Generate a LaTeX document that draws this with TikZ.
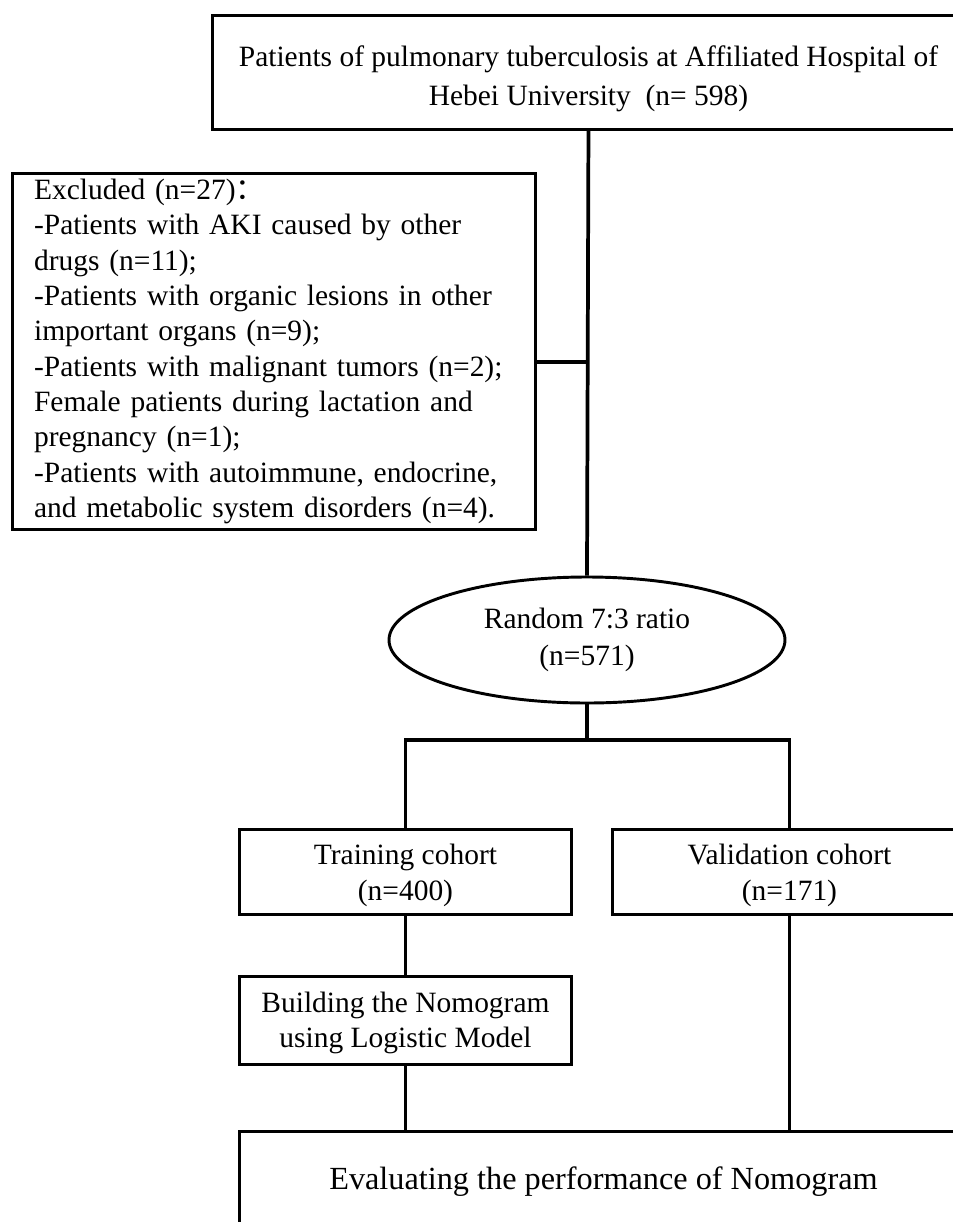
\documentclass[tikz,border=0pt]{standalone}
\usepackage{fontspec}
\setmainfont{Liberation Serif}
\newfontfamily\cjk{Noto Sans CJK SC}
\usetikzlibrary{shapes.geometric}
\newcommand{\lowered}[2]{\raisebox{-#1}[\height][\depth]{#2}}
\begin{document}
\begin{tikzpicture}[x=0.75pt,y=-0.75pt,
  box/.style={draw,line width=2.2pt,rectangle,anchor=north west,inner sep=0pt,
    font=\fontsize{22.1pt}{27pt}\selectfont,align=center},
  conn/.style={line width=2.8pt}]
\useasboundingbox (0,0) rectangle (953,1222);
\clip (0,0) rectangle (953,1222);
\fill[white] (0,0) rectangle (953,1222);
% nodes
\node[box,minimum width=564pt,minimum height=85.5pt,
  font=\fontsize{22.1pt}{29.2pt}\selectfont] (top) at (211,14)
  {\lowered{4.5pt}{\begin{tabular}{@{}c@{}}Patients of pulmonary tuberculosis at Affiliated Hospital of\\Hebei University\ \ (n= 598)\end{tabular}}};
\node[box,minimum width=392.25pt,minimum height=267pt,align=left,
  text width=360pt,inner xsep=16.2pt,
  font=\fontsize{22.1pt}{26.5pt}\selectfont] (excl) at (11,172)
  {Excluded (n=27){\cjk ：}\\
  -Patients with AKI caused by other\\
  drugs (n=11);\\
  -Patients with organic lesions in other\\
  important organs (n=9);\\
  -Patients with malignant tumors (n=2);\\
  Female patients during lactation and\\
  pregnancy (n=1);\\
  -Patients with autoimmune, endocrine,\\
  and metabolic system disorders (n=4).};
\node[draw,line width=2.2pt,ellipse,minimum width=297pt,minimum height=94.5pt,inner sep=0pt,
  font=\fontsize{22.1pt}{27.5pt}\selectfont,align=center] (ell) at (587,640)
  {Random 7:3 ratio\\(n=571)};
\node[box,minimum width=249pt,minimum height=63.75pt] (train) at (238,828)
  {\lowered{2.5pt}{\begin{tabular}{@{}c@{}}Training cohort\\(n=400)\end{tabular}}};
\node[box,minimum width=265.5pt,minimum height=63.75pt] (valid) at (611,828)
  {\lowered{2.5pt}{\begin{tabular}{@{}c@{}}Validation cohort\\(n=171)\end{tabular}}};
\node[box,minimum width=249pt,minimum height=66pt,
  font=\fontsize{22.1pt}{26pt}\selectfont] (build) at (238,975)
  {\lowered{2pt}{\begin{tabular}{@{}c@{}}Building the Nomogram\\using Logistic Model\end{tabular}}};
\node[box,minimum width=546pt,minimum height=75pt,
  font=\fontsize{24.2pt}{29pt}\selectfont] (eval) at (238,1130)
  {Evaluating the performance of Nomogram};
% connectors
\coordinate (branch) at (587,362);
\coordinate (split) at (587,740);
\draw[conn] (top.south) -- (ell.north);
\draw[conn] (branch) -- (branch -| excl.east);
\draw[conn] (ell.south) -- (split);
\draw[conn] (train.north) |- (split) -| (valid.north);
\draw[conn] (train.south) -- (build.north);
\draw[conn] (build.south) -- (build.south |- eval.north);
\draw[conn] (valid.south) -- (valid.south |- eval.north);
\end{tikzpicture}
\end{document}
